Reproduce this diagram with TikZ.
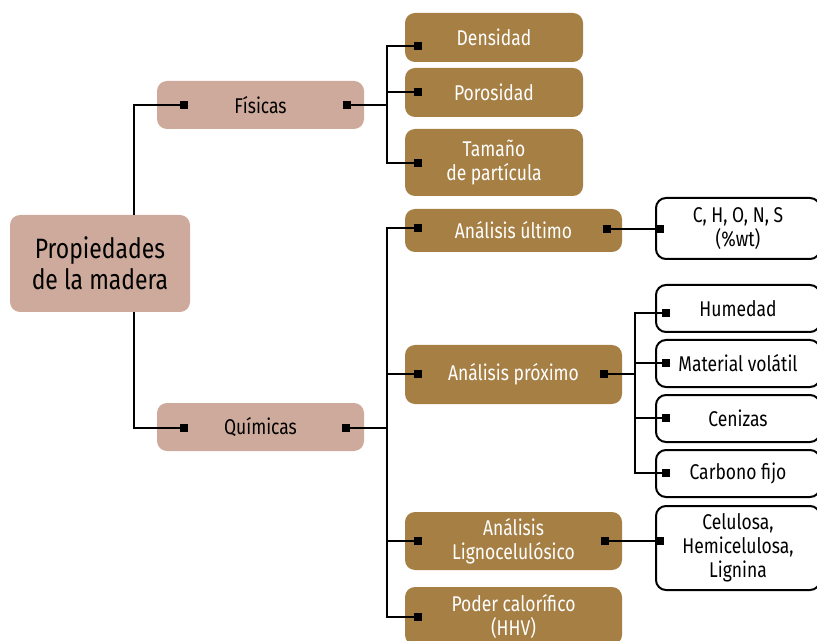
\documentclass[tikz,border=0pt]{standalone}
\usepackage{fontspec}
\setmainfont{Fira Sans}[FakeStretch=0.82]
\usepackage{tikz}
\definecolor{rosa}{HTML}{CDAA9B}
\definecolor{oro}{HTML}{A67F45}
\tikzset{
  caja/.style={rounded corners=7.5pt, align=center, inner sep=0pt,
    font=\fontsize{16}{18}\selectfont},
  grupo/.style={caja, fill=rosa, text=black, minimum width=155.25pt, minimum height=36pt},
  prueba/.style={caja, fill=oro, text=white},
  detalle/.style={caja, draw=black, fill=white, text=black, line width=1.5pt,
    minimum width=123pt},
  mk/.style={fill=black, minimum size=6pt, inner sep=0pt},
}

\begin{document}
\begin{tikzpicture}[x=0.75pt,y=-0.75pt,line width=1.6pt]
  \useasboundingbox (0,0) rectangle (817,641);

  % nivel 1
  \node[caja, fill=rosa, minimum width=135pt, minimum height=72.75pt,
    font=\fontsize{21}{23}\selectfont] (prop) at (100,263.5) {Propiedades\\de la madera};
  \node[grupo] (fis) at (260.5,105) {Físicas};
  \node[grupo] (qui) at (260.5,427) {Químicas};

  % físicas
  \node[prueba, minimum width=133.5pt, minimum height=36.75pt] (den) at (494,37.5) {Densidad};
  \node[prueba, minimum width=133.5pt, minimum height=36.75pt] (por) at (494,92.5) {Porosidad};
  \node[prueba, minimum width=133.5pt, minimum height=50.25pt] (tam) at (494,162.5) {Tamaño\\de partícula};

  % químicas
  \node[prueba, minimum width=162.75pt, minimum height=32.25pt] (ult) at (513.5,230.5) {Análisis último};
  \node[prueba, minimum width=162.75pt, minimum height=44.25pt] (pro) at (513.5,374.5) {Análisis próximo};
  \node[prueba, minimum width=162.75pt, minimum height=43.5pt] (lig) at (513.5,541) {Análisis\\Lignocelulósico};
  \node[prueba, minimum width=162.75pt, minimum height=43.5pt] (pod) at (513.5,616) {Poder calorífico\\(HHV)};

  % detalles
  \node[detalle, minimum height=45.75pt] (chons) at (738,228.5) {C, H, O, N, S\\(\%wt)};
  \node[detalle, minimum height=35.25pt] (hum) at (738,308.5) {Humedad};
  \node[detalle, minimum height=35.25pt] (mat) at (738,363.5) {Material volátil};
  \node[detalle, minimum height=35.25pt] (cen) at (738,418.5) {Cenizas};
  \node[detalle, minimum height=35.25pt] (car) at (738,473.5) {Carbono fijo};
  \node[detalle, minimum height=63pt] (cel) at (738,548) {Celulosa,\\Hemicelulosa,\\Lignina};

  % marcadores
  \foreach \n/\x/\y in {fisL/184/105, fisR/347/105, quiL/184/428, quiR/346/428,
      denL/418/46, porL/418/92, tamL/418/163,
      ultL/418/228, ultR/607/229, proL/418/374, proR/604/374,
      ligL/418/541, ligR/605/541, podL/418/617,
      chonsL/660/229, humL/666/313, matL/666/363, cenL/666/418, carL/666/473, celL/660/541}
    \node[mk] (\n) at (\x,\y) {};

  % conexiones
  \coordinate (rtop) at (134,215);
  \coordinate (rbot) at (134,312);
  \draw (rtop) |- (fisL.center);
  \draw (rbot) |- (quiL.center);

  \coordinate (busF) at (387,105);
  \draw (fisR.center) -- (busF);
  \foreach \c in {den,por,tam}
    \draw (busF) |- (\c L.center);

  \coordinate (busQ) at (387,428);
  \draw (quiR.center) -- (busQ);
  \foreach \c in {ult,pro,lig,pod}
    \draw (busQ) |- (\c L.center);

  \coordinate (busP) at (635,374);
  \draw (proR.center) -- (busP);
  \foreach \c in {hum,mat,cen,car}
    \draw (busP) |- (\c L.center);

  \draw (ultR.center) -- (chonsL.center);
  \draw (ligR.center) -- (celL.center);
\end{tikzpicture}
\end{document}
